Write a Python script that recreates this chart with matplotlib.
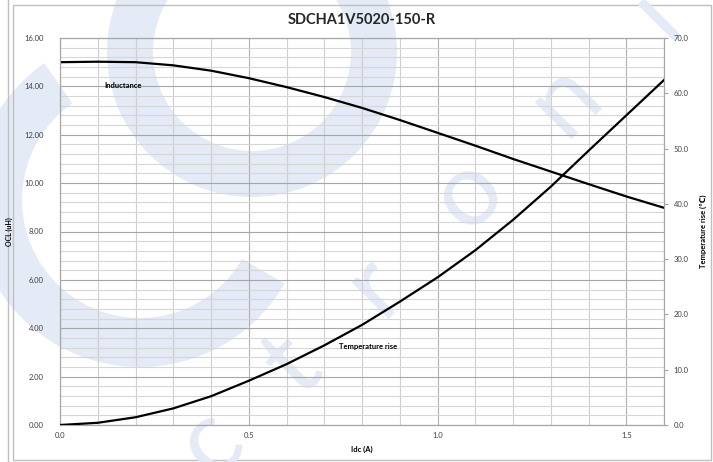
import matplotlib
matplotlib.use("Agg")
import matplotlib.pyplot as plt
from matplotlib.patches import Wedge, Rectangle
from matplotlib.ticker import MultipleLocator, FormatStrFormatter

plt.rcParams["font.family"] = ["Lato", "DejaVu Sans"]

# ==========================================================
# Data
# ==========================================================

title = "SDCHA1V5020-150-R"

idc = [0.0, 0.1, 0.2, 0.3, 0.4, 0.5, 0.6, 0.7, 0.8,
       0.9, 1.0, 1.1, 1.2, 1.3, 1.4, 1.5, 1.6]
inductance = [15.00, 15.02, 15.00, 14.87, 14.65, 14.34, 13.97, 13.56, 13.11,
              12.61, 12.08, 11.55, 11.00, 10.48, 9.96, 9.45, 8.98]
temp_rise = [0.0, 0.4, 1.4, 3.0, 5.2, 8.0, 11.0, 14.4, 18.1,
             22.3, 26.7, 31.6, 37.1, 43.1, 49.6, 56.0, 62.4]

# ==========================================================
# Figure + watermark layer (pixel coordinates)
# ==========================================================

W, H = 713, 462
fig = plt.figure(figsize=(W / 100, H / 100), dpi=100)

bg = fig.add_axes([0, 0, 1, 1], zorder=0)
bg.set_xlim(0, W)
bg.set_ylim(H, 0)
bg.axis("off")

wm = "#E4EAF6"
bg.add_patch(Wedge((252, 52), 145, 0, 360, width=46, color=wm, lw=0))
bg.add_patch(Wedge((140, 200), 167, 30, 235, width=49, color=wm, lw=0))
for ch, (px, py) in zip("ctroni", [(210, 442), (293, 365), (375, 285),
                                   (467, 193), (565, 98), (655, 14)]):
    bg.text(px, py, ch, fontsize=74, color=wm,
            rotation=45, ha="center", va="center")

# chart frame
bg.add_patch(Rectangle((13, 5), 698, 455, fill=False, ec="#BFBFBF", lw=1))
bg.plot([8, 8], [0, H], color="#BFBFBF", lw=1)

# ==========================================================
# Main chart
# ==========================================================

ax = fig.add_axes([60 / W, 1 - 425 / H, (664 - 60) / W, (425 - 38) / H], zorder=1)
ax.patch.set_visible(False)
ax2 = ax.twinx()
ax2.set_zorder(2)

ax.set_xlim(0, 1.6)
ax.set_ylim(0, 16)
ax2.set_ylim(0, 70)

ax.xaxis.set_major_locator(MultipleLocator(0.5))
ax.xaxis.set_minor_locator(MultipleLocator(0.1))
ax.yaxis.set_major_locator(MultipleLocator(2))
ax.yaxis.set_minor_locator(MultipleLocator(0.4))
ax2.yaxis.set_major_locator(MultipleLocator(10))

ax.xaxis.set_major_formatter(FormatStrFormatter("%.1f"))
ax.yaxis.set_major_formatter(FormatStrFormatter("%.2f"))
ax2.yaxis.set_major_formatter(FormatStrFormatter("%.1f"))

ax.grid(which="major", axis="y", color="#A6A6A6", lw=0.8)
ax.grid(which="minor", axis="y", color="#D6D6D6", lw=0.8)
ax.grid(which="major", axis="x", color="#B0B0B0", lw=0.8)
ax.grid(which="minor", axis="x", color="#CFCFCF", lw=0.8)
ax.set_axisbelow(True)

ax.tick_params(which="both", length=0, labelsize=5.5, labelcolor="#404040")
ax.tick_params(axis="y", pad=12)
ax.tick_params(axis="x", pad=5)
ax2.tick_params(axis="y", length=3, color="#A6A6A6", labelsize=5.5,
                labelcolor="#404040", pad=4)

for a in (ax, ax2):
    for sp in a.spines.values():
        sp.set_color("#A6A6A6")
        sp.set_linewidth(0.8)

ax.plot(idc, inductance, color="black", lw=1.6, zorder=3)
ax2.plot(idc, temp_rise, color="black", lw=1.6, zorder=3)

ax.text(0.117, 14.02, "Inductance", fontsize=5.5, fontweight="bold", va="center")
ax.text(0.738, 3.24, "Temperature rise", fontsize=5.5, fontweight="bold", va="center")

ax.set_xlabel("Idc (A)", fontsize=5.5, fontweight="bold", labelpad=5)
ax.set_ylabel("OCL (uH)", fontsize=5, fontweight="bold", labelpad=8)
ax2.set_ylabel("Temperature rise (℃)", fontsize=5.5, fontweight="bold", labelpad=8)

fig.text(362 / W, 1 - 20 / H, title, fontsize=10.5, fontweight="bold",
         ha="center", va="center", color="#262626")

fig.savefig("out.png", dpi=100)
